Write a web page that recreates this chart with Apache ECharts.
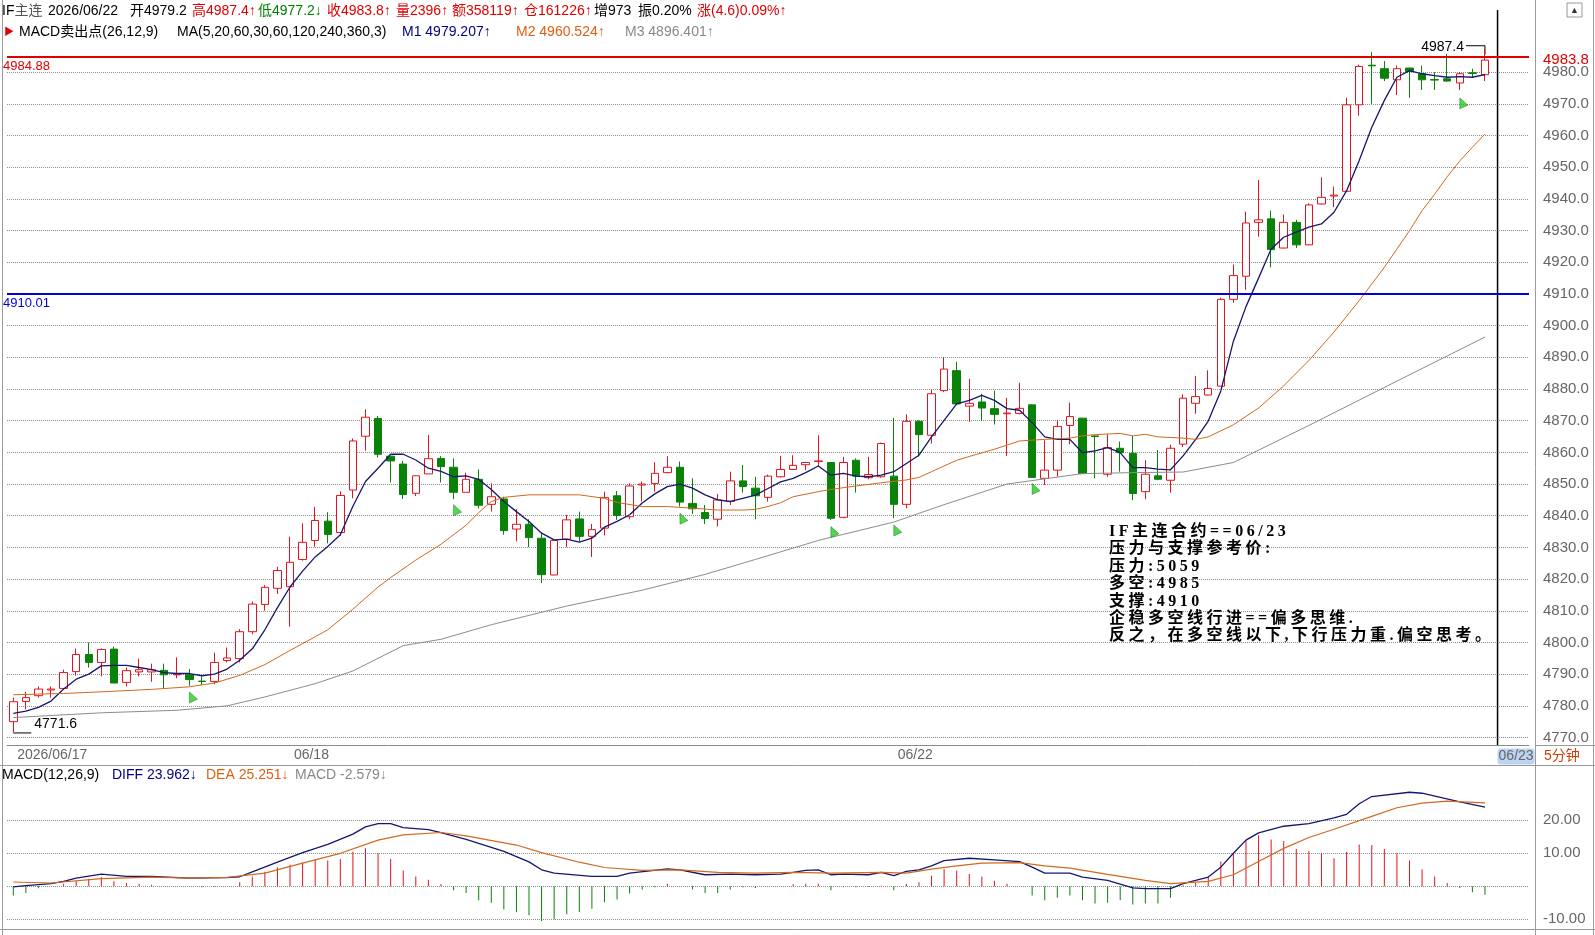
<!DOCTYPE html>
<html>
<head>
<meta charset="utf-8">
<script src="https://cdn.jsdelivr.net/npm/echarts@6/dist/echarts.min.js"></script>
<style>
  html, body { margin: 0; padding: 0; background: #fff; overflow: hidden; }
  #chart { width: 1595px; height: 960px; }
  .note {
    position: absolute; left: 1109px; top: 522px;
    font: bold 16px/17.4px "Liberation Serif", "Noto Sans CJK SC", serif;
    letter-spacing: 3.5px; color: #000; white-space: pre;
  }
</style>
</head>
<body>
<div id="chart"></div>
<div class="note">IF主连合约==06/23
压力与支撑参考价:
压力:5059
多空:4985
支撑:4910
企稳多空线行进==偏多思维.
反之，在多空线以下,下行压力重.偏空思考。</div>
<script>
// ---- data (5分钟 K线, 06/17 尾段 + 06/18 + 06/22) ----
const dayLabels = ['2026/06/17', '06/18', '06/22', '06/23']
const dayStartIdx = [0, 22, 70, 118]
const slotCount = 121

const opens = [
  4775.0,4781.4,4783.2,4785.0,4785.5,4790.8,4796.2,4793.7,4797.9,4787.4,
  4790.7,4790.7,4791.2,4789.8,4789.8,4787.8,4787.7,4794.3,4794.9,4803.4,
  4812.0,4817.1,4817.6,4826.2,4832.2,4838.3,4834.7,4848.1,4865.1,4870.7,
  4858.8,4856.3,4847.1,4853.2,4858.1,4855.3,4847.4,4851.5,4843.6,4845.3,
  4835.8,4837.3,4832.9,4821.3,4832.6,4839.0,4833.5,4836.1,4846.3,4839.7,
  4849.7,4850.2,4853.6,4855.3,4843.9,4841.0,4838.9,4844.5,4851.0,4848.7,
  4845.8,4852.3,4854.6,4856.1,4857.1,4856.8,4839.5,4857.5,4852.0,4852.3,
  4852.5,4843.6,4869.8,4865.4,4879.5,4885.8,4874.6,4875.9,4873.8,4872.2,
  4872.3,4875.0,4851.8,4854.4,4868.5,4870.8,4865.2,4853.1,4861.3,4859.7,
  4847.6,4852.6,4851.2,4862.6,4875.5,4878.1,4880.9,4908.3,4915.6,4932.6,
  4933.7,4924.5,4932.6,4925.5,4938.4,4940.9,4942.4,4969.7,4982.2,4981.1,
  4977.6,4981.3,4979.5,4977.7,4977.9,4976.6,4979.8,4979.2
]
const highs = [
  4782.6,4784.4,4786.1,4786.1,4791.4,4798.1,4800.0,4798.1,4798.7,4792.1,
  4794.9,4793.3,4793.3,4795.3,4791.6,4789.3,4796.8,4798.4,4804.2,4812.9,
  4818.1,4823.9,4833.4,4837.6,4842.8,4841.1,4847.7,4864.4,4873.6,4871.5,
  4858.9,4857.3,4852.7,4865.5,4858.8,4858.1,4853.6,4854.6,4850.2,4846.0,
  4842.1,4838.9,4834.5,4832.4,4840.3,4841.3,4837.4,4847.6,4847.8,4850.2,
  4850.8,4856.9,4858.8,4857.1,4851.8,4843.4,4846.9,4853.9,4856.0,4852.3,
  4853.0,4858.9,4859.1,4857.0,4865.4,4857.0,4858.6,4858.1,4858.6,4863.1,
  4870.9,4872.0,4870.1,4879.7,4890.0,4888.6,4883.2,4878.5,4879.5,4877.2,
  4882.0,4875.1,4863.8,4870.1,4875.7,4870.9,4865.3,4865.7,4863.4,4865.2,
  4857.5,4860.7,4862.4,4878.3,4884.1,4885.9,4908.8,4919.3,4936.0,4946.0,
  4936.3,4935.1,4933.4,4938.6,4946.8,4943.9,4971.9,4982.4,4986.3,4983.5,
  4982.1,4981.4,4982.1,4980.0,4985.8,4980.0,4981.1,4987.4
]
const lows = [
  4771.6,4778.9,4782.6,4782.6,4785.3,4789.5,4792.1,4789.3,4787.2,4786.1,
  4789.3,4787.6,4785.5,4788.7,4786.3,4786.5,4786.8,4793.7,4793.7,4802.6,
  4810.0,4815.3,4805.0,4825.8,4830.2,4831.3,4833.7,4845.5,4860.5,4858.4,
  4850.5,4845.3,4846.2,4853.2,4850.5,4845.2,4847.4,4842.3,4841.3,4834.0,
  4831.9,4830.1,4818.8,4821.2,4830.1,4831.9,4827.0,4833.8,4838.7,4838.9,
  4844.5,4847.6,4853.4,4842.9,4840.6,4837.4,4836.6,4843.4,4847.3,4838.9,
  4844.5,4852.1,4854.4,4854.4,4855.7,4838.7,4839.2,4847.3,4851.5,4852.0,
  4839.2,4842.4,4858.6,4862.8,4879.0,4875.0,4869.6,4869.9,4868.8,4858.9,
  4872.0,4852.0,4849.7,4852.3,4862.6,4853.2,4851.8,4852.3,4853.9,4844.9,
  4845.2,4851.2,4847.3,4861.7,4872.2,4878.0,4880.8,4907.2,4911.3,4928.1,
  4918.4,4924.4,4924.5,4925.4,4938.2,4937.4,4942.3,4966.3,4970.0,4977.2,
  4972.8,4971.9,4974.4,4974.4,4977.0,4974.4,4978.4,4977.2
]
const closes = [
  4781.3,4782.6,4785.3,4785.3,4790.5,4796.2,4793.7,4797.8,4787.2,4791.1,
  4791.4,4791.4,4789.8,4790.0,4788.3,4787.7,4793.7,4795.1,4803.4,4812.1,
  4817.4,4822.7,4825.3,4831.6,4838.5,4834.1,4846.4,4863.6,4871.1,4859.4,
  4857.3,4846.7,4852.6,4858.0,4855.5,4847.4,4851.5,4843.3,4846.0,4835.3,
  4837.3,4833.1,4821.4,4832.2,4838.7,4833.5,4835.6,4845.7,4840.1,4849.4,
  4850.0,4853.4,4855.3,4844.3,4842.2,4839.1,4845.0,4851.0,4849.2,4846.3,
  4852.5,4854.6,4855.9,4856.8,4857.3,4839.2,4856.8,4852.5,4853.0,4862.8,
  4843.6,4869.8,4865.6,4878.5,4886.3,4875.3,4875.5,4874.0,4872.0,4872.4,
  4873.9,4852.1,4854.4,4868.2,4871.3,4853.3,4865.0,4861.5,4859.9,4847.0,
  4853.1,4851.5,4861.3,4877.1,4877.6,4880.2,4908.3,4915.8,4932.4,4933.4,
  4924.0,4932.6,4925.5,4938.1,4940.5,4941.2,4969.7,4981.8,4982.0,4978.1,
  4981.1,4980.2,4977.6,4977.5,4977.2,4979.5,4979.6,4983.8
]

// M1 / M2 / M3 均线
const ma1 = [
  4777.6,4778.3,4779.5,4781.5,4785.3,4788.4,4790.0,4792.6,4792.8,4792.8,
  4792.1,4791.4,4790.5,4790.2,4790.2,4789.5,4790.0,4791.6,4794.4,4798.0,
  4804.0,4811.0,4817.5,4822.5,4827.0,4830.3,4834.0,4843.0,4850.8,4855.0,
  4859.4,4859.4,4857.6,4855.0,4854.0,4852.3,4852.6,4851.5,4848.3,4844.5,
  4841.3,4838.2,4834.5,4832.4,4832.6,4831.7,4832.9,4836.4,4838.2,4840.3,
  4844.0,4846.9,4849.2,4850.0,4848.7,4846.6,4845.0,4844.5,4845.5,4846.5,
  4848.6,4850.7,4851.8,4853.6,4855.7,4852.8,4853.4,4852.5,4852.3,4852.8,
  4853.9,4856.5,4859.1,4864.9,4870.1,4875.3,4876.4,4878.0,4876.4,4873.8,
  4873.3,4869.4,4864.9,4864.1,4864.1,4859.9,4860.5,4861.5,4859.9,4855.2,
  4855.2,4854.7,4854.5,4858.9,4864.1,4869.9,4879.4,4895.1,4906.0,4915.0,
  4924.2,4927.9,4929.5,4931.1,4932.1,4935.8,4942.6,4952.1,4962.6,4971.1,
  4978.4,4980.5,4979.5,4978.9,4978.4,4978.6,4978.4,4979.2
]
const ma2Pts = [
  [0,4783.5],[4,4783.9],[8,4784.6],[11,4785.2],[14,4786.0],[16,4787.2],[18,4789.6],
  [20,4793.0],[22,4797.5],[24,4801.8],[25,4804.0],[27,4810.5],[29,4817.5],[30,4820.5],
  [32,4826.0],[34,4831.0],[36,4837.0],[37,4841.0],[38,4844.5],[39,4845.8],[41,4846.6],
  [45,4846.6],[47,4845.5],[48,4844.2],[50,4842.9],[52,4842.9],[54,4842.4],[56,4841.8],
  [58,4841.8],[59,4842.0],[60,4842.9],[61,4844.1],[62,4846.0],[64,4847.6],[65,4848.3],
  [67,4849.4],[69,4850.4],[71,4851.3],[72,4852.1],[73,4853.9],[74,4855.7],[75,4857.5],
  [76,4858.7],[78,4861.0],[80,4863.6],[82,4864.1],[84,4864.5],[85,4865.2],[86,4865.6],
  [88,4866.0],[89,4865.2],[90,4865.7],[91,4864.9],[93,4864.5],[94,4864.1],[95,4864.9],
  [96,4866.8],[97,4868.7],[99,4874.0],[101,4881.0],[103,4889.0],[105,4898.0],[107,4907.9],
  [109,4918.4],[110,4924.2],[111,4930.0],[112,4936.3],[113,4941.5],[114,4947.0],
  [115,4952.0],[116,4956.3],[117,4960.5]
]
const ma3Pts = [
  [0,4776.3],[7,4777.8],[13,4778.6],[17,4780.0],[20,4782.8],[24,4787.0],[27,4791.0],
  [31,4799.0],[34,4801.0],[38,4805.6],[44,4811.5],[50,4816.5],[55,4821.5],[59,4826.2],
  [64,4832.2],[70,4838.0],[74,4843.5],[79,4850.0],[85,4853.3],[89,4853.6],[93,4853.8],
  [97,4856.8],[103,4868.5],[110,4882.5],[117,4896.4]
]

// MACD 卖出点
const sellIdx = [14, 35, 53, 65, 70, 81, 115]
const sellPrice = [4784.4, 4843.5, 4840.8, 4836.6, 4837.1, 4850.2, 4971.9]

// MACD(12,26,9)
const macdBar = [
  -2.8,-2.0,-0.6,0.1,0.8,1.7,2.3,2.8,1.5,1.0,
  0.8,0.5,0.1,0.0,0.0,-0.3,-0.1,0.0,1.2,3.0,
  4.4,5.8,6.5,7.2,8.2,7.8,8.3,10.5,11.5,10.0,
  8.3,4.8,3.0,2.0,0.7,-1.2,-2.0,-4.2,-5.0,-7.0,
  -7.8,-8.8,-10.5,-10.0,-8.5,-7.8,-6.8,-4.8,-4.0,-2.2,
  -1.0,-0.3,0.8,0.0,-1.0,-2.0,-2.0,-1.0,-0.3,-0.5,
  0.0,0.0,0.6,0.8,0.8,-1.2,-0.3,-0.3,-0.2,0.2,
  -1.2,0.7,1.2,3.2,5.2,4.8,3.7,3.0,1.7,0.8,
  0.0,-2.8,-4.2,-3.5,-2.8,-4.2,-5.2,-5.0,-4.2,-5.5,
  -5.2,-5.2,-3.5,0.3,1.0,3.0,7.5,10.0,14.0,15.5,
  14.2,13.7,11.3,10.7,10.0,8.5,10.5,12.7,12.5,11.3,
  10.0,7.8,5.2,3.0,1.0,-0.5,-1.8,-2.58
]
const diffPts = [
  [0,-0.2],[1,0.2],[3,0.8],[4,1.5],[5,2.5],[7,3.7],[9,3.0],[11,3.0],[14,2.5],[17,2.6],
  [18,2.9],[19,4.4],[21,7.3],[23,10.2],[25,12.7],[27,15.8],[28,18.0],[29,19.0],[30,19.0],
  [31,17.8],[33,17.2],[34,16.3],[36,14.2],[39,10.6],[41,7.4],[42,5.0],[43,4.0],[46,3.0],
  [48,3.0],[49,4.0],[52,5.3],[53,5.0],[55,3.5],[57,3.7],[59,3.5],[61,3.7],[62,4.2],
  [63,4.8],[64,5.0],[65,3.5],[66,3.7],[68,3.5],[69,4.2],[70,3.2],[71,4.5],[72,5.0],
  [73,6.2],[74,7.8],[76,8.5],[78,8.0],[80,7.5],[81,5.8],[82,4.0],[84,4.0],[85,2.8],
  [87,1.8],[89,-0.5],[90,-0.7],[92,-0.7],[93,0.8],[95,2.8],[96,5.8],[97,10.0],[98,14.0],
  [99,16.2],[101,18.2],[103,19.0],[105,20.7],[106,21.8],[107,25.0],[108,27.2],[111,28.5],
  [112,28.2],[115,25.6],[117,23.962]
]
const deaPts = [
  [0,1.3],[3,1.0],[7,2.3],[11,2.8],[14,2.5],[17,2.7],[20,4.0],[23,7.0],[26,10.0],
  [29,14.0],[31,15.6],[34,16.3],[36,15.3],[40,12.5],[42,10.2],[45,7.3],[47,5.7],[50,4.8],
  [53,5.0],[56,4.2],[59,4.0],[62,4.2],[65,4.0],[69,4.2],[71,4.0],[73,5.2],[75,6.2],
  [77,7.0],[80,7.2],[82,6.2],[84,5.5],[87,3.6],[90,1.8],[92,0.8],[95,1.5],[97,3.5],
  [99,7.5],[101,11.5],[103,14.8],[105,17.3],[108,21.2],[110,23.8],[112,25.2],[114,25.8],
  [117,25.251]
]

const pressureLine = 4984.88
const supportLine = 4910.01
const lastClose = 4983.8
const highMark = [117, 4987.4]
const lowMark = [0, 4771.6]

// ---- colors ----
const UP = '#e0141e'
const DOWN = '#0a820a'
const NAVY = '#16166e'
const ORANGE = '#d2691e'
const GRAY = '#8c8c8c'
const FONT = '"Liberation Sans", Arial, "Noto Sans CJK SC", sans-serif'

const slots = Array.from({ length: slotCount }, (_, i) => String(i))
const isDayStart = (i) => dayStartIdx.includes(i)
const kData = opens.map((o, i) => [o, closes[i], lows[i], highs[i]])

const chart = echarts.init(document.getElementById('chart'))

chart.setOption({
  animation: false,
  backgroundColor: '#fff',
  textStyle: { fontFamily: FONT },
  grid: [
    { left: 7, width: 1522, top: 40.5, height: 728.7 },
    { left: 7, width: 1522, top: 787.3, height: 165 }
  ],
  xAxis: [
    {
      type: 'category', gridIndex: 0, data: slots, boundaryGap: true, offset: -23.6,
      axisLine: { lineStyle: { color: '#8a8a8a' } },
      axisTick: { alignWithLabel: true, interval: isDayStart, length: 14, lineStyle: { color: '#777' } },
      axisLabel: {
        interval: isDayStart, align: 'left', margin: 3, color: '#666', fontSize: 14,
        formatter: (v, i) => {
          const k = dayStartIdx.indexOf(i)
          if (k < 0) return ''
          return k === 3 ? '{hl|' + dayLabels[k] + '}' : ' ' + dayLabels[k]
        },
        rich: { hl: { backgroundColor: '#bcd4ef', borderRadius: 3, padding: [1, 1], color: '#666', fontSize: 14 } }
      },
      splitLine: { show: false }
    },
    {
      type: 'category', gridIndex: 1, data: slots, boundaryGap: true,
      axisLine: { show: false }, axisTick: { show: false }, axisLabel: { show: false }
    }
  ],
  yAxis: [
    {
      type: 'value', gridIndex: 0, position: 'right', min: 4760, max: 4990, interval: 10,
      axisLine: { show: false }, axisTick: { show: false },
      axisLabel: {
        color: '#666', fontSize: 15, margin: 14,
        showMinLabel: false, showMaxLabel: false,
        formatter: (v) => (v >= 4770 && v <= 4980 ? v.toFixed(1) : '')
      },
      splitLine: { lineStyle: { type: 'dotted', color: '#8c8c8c' }, showMinLine: false, showMaxLine: false }
    },
    {
      type: 'value', gridIndex: 1, position: 'right', min: -20, max: 30, interval: 10,
      axisLine: { show: false }, axisTick: { show: false },
      axisLabel: {
        color: '#666', fontSize: 15, margin: 14,
        formatter: (v) => ([20, 10, -10].includes(v) ? v.toFixed(2) : '')
      },
      splitLine: { lineStyle: { type: 'dotted', color: '#8c8c8c' }, showMinLine: false, showMaxLine: false }
    }
  ],
  series: [
    {
      type: 'candlestick', xAxisIndex: 0, yAxisIndex: 0, data: kData, barWidth: 8,
      itemStyle: { color: '#fff', color0: DOWN, borderColor: UP, borderColor0: DOWN, borderWidth: 1 },
      markLine: {
        silent: true, symbol: 'none',
        data: [
          { yAxis: pressureLine, lineStyle: { color: '#e00000', width: 2, type: 'solid' },
            label: { position: 'insideStartBottom', formatter: '4984.88', color: '#e00000', fontSize: 13, distance: [-4, 3] } },
          { yAxis: supportLine, lineStyle: { color: '#0000dd', width: 2, type: 'solid' },
            label: { position: 'insideStartBottom', formatter: '4910.01', color: '#0000dd', fontSize: 13, distance: [-4, 3] } }
        ]
      }
    },
    { type: 'line', xAxisIndex: 0, yAxisIndex: 0, data: ma1, symbol: 'none', z: 4,
      lineStyle: { color: NAVY, width: 1.3 } },
    { type: 'line', xAxisIndex: 0, yAxisIndex: 0, data: ma2Pts, symbol: 'none', z: 4,
      lineStyle: { color: ORANGE, width: 1 } },
    { type: 'line', xAxisIndex: 0, yAxisIndex: 0, data: ma3Pts, symbol: 'none', z: 4,
      lineStyle: { color: GRAY, width: 1 } },
    {
      type: 'scatter', xAxisIndex: 0, yAxisIndex: 0, z: 5,
      data: sellIdx.map((x, i) => [x, sellPrice[i]]),
      symbol: 'path://M0,0 L0,12 L9,8 Z', symbolSize: [8, 11], symbolOffset: [4, 5.5],
      itemStyle: { color: '#22d022', borderColor: '#0a5a0a', borderWidth: 0.5 }
    },
    {
      type: 'bar', xAxisIndex: 1, yAxisIndex: 1, barWidth: 1,
      data: macdBar.map((v) => ({ value: v, itemStyle: { color: v >= 0 ? UP : DOWN } }))
    },
    { type: 'line', xAxisIndex: 1, yAxisIndex: 1, data: diffPts, symbol: 'none',
      lineStyle: { color: NAVY, width: 1.3 } },
    { type: 'line', xAxisIndex: 1, yAxisIndex: 1, data: deaPts, symbol: 'none',
      lineStyle: { color: ORANGE, width: 1.2 } }
  ]
})

function txt(x, y, text, color, size, extra) {
  return { type: 'text', x, y, silent: true,
    style: Object.assign({ text, fill: color, font: (size || 14) + 'px ' + FONT, verticalAlign: 'middle' }, extra || {}) }
}
function line(x1, y1, x2, y2, color, w) {
  return { type: 'line', silent: true, shape: { x1, y1, x2, y2 }, style: { stroke: color, lineWidth: w || 1 } }
}

function drawOverlays() {
  const hi = chart.convertToPixel({ gridIndex: 0 }, highMark)
  const lo = chart.convertToPixel({ gridIndex: 0 }, lowMark)
  const nowX = chart.convertToPixel({ xAxisIndex: 0 }, dayStartIdx[3])
  const lastY = chart.convertToPixel({ yAxisIndex: 0 }, lastClose)
  const RED = '#e00000'
  const GREEN = '#008000'

  const g = [
    // frame
    line(2.5, 0, 2.5, 935, '#9a9a9a'),
    line(1535.5, 0, 1535.5, 935, '#9a9a9a'),
    line(1593.5, 0, 1593.5, 935, '#9a9a9a'),
    line(0, 765.5, 1595, 765.5, '#9a9a9a'),
    line(1535, 745.5, 1595, 745.5, '#9a9a9a'),
    line(0, 929.5, 1595, 929.5, '#9a9a9a'),
    // header row 1
    txt(2, 11, '{a|IF}{b|主连}', '#000', 14, { rich: { a: { fill: '#000' }, b: { fill: '#555' } } }),
    txt(48, 11, '2026/06/22', '#000'),
    txt(130, 11, '开4979.2', '#000'),
    txt(192, 11, '高4987.4↑', RED),
    txt(258, 11, '低4977.2↓', GREEN),
    txt(327, 11, '收4983.8↑', RED),
    txt(396, 11, '量2396↑', RED),
    txt(452, 11, '额358119↑', RED),
    txt(524, 11, '仓161226↑', RED),
    txt(594, 11, '增973', '#000'),
    txt(638, 11, '振0.20%', '#000'),
    txt(697, 11, '涨(4.6)0.09%↑', RED),
    // header row 2
    txt(4, 32, '▶', '#e00000', 10),
    txt(19, 32, 'MACD卖出点(26,12,9)', '#000'),
    txt(177, 32, 'MA(5,20,60,30,60,120,240,360,3)', '#000'),
    txt(402, 32, 'M1 4979.207↑', '#000080'),
    txt(516, 32, 'M2 4960.524↑', '#e06010'),
    txt(625, 32, 'M3 4896.401↑', '#888'),
    // top-right button
    { type: 'rect', silent: true, shape: { x: 1567, y: 3, width: 15, height: 14 }, style: { fill: '#fff', stroke: '#999' } },
    txt(1570, 10.5, '▲', '#333', 9),
    // MACD header
    txt(2, 775, 'MACD(12,26,9)', '#000'),
    txt(112, 775, 'DIFF 23.962↓', '#000080'),
    txt(206, 775, 'DEA 25.251↓', '#e06010'),
    txt(295, 775, 'MACD -2.579↓', '#888'),
    // period label
    txt(1544, 756, '5分钟', '#d03a00'),
    // current-time divider
    line(nowX, 10, nowX, 745.5, '#000', 1.5),
    // last close on price axis
    txt(1542, lastY, '4983.8', RED, 15, { backgroundColor: '#fff', padding: [0, 1] }),
    // high marker
    txt(hi[0] - 21, hi[1] - 2, '4987.4', '#000', 14, { align: 'right' }),
    { type: 'polyline', silent: true, shape: { points: [[hi[0] - 19, hi[1] - 3], [hi[0], hi[1] - 3], [hi[0], hi[1] + 6]] },
      style: { stroke: '#000', lineWidth: 1, fill: null } },
    // low marker
    line(lo[0], lo[1] + 0.5, lo[0] + 18, lo[1] + 0.5, '#000', 1),
    txt(lo[0] + 21, lo[1] - 8, '4771.6', '#000', 14)
  ]
  chart.setOption({ graphic: g })
}

drawOverlays()
</script>
</body>
</html>
